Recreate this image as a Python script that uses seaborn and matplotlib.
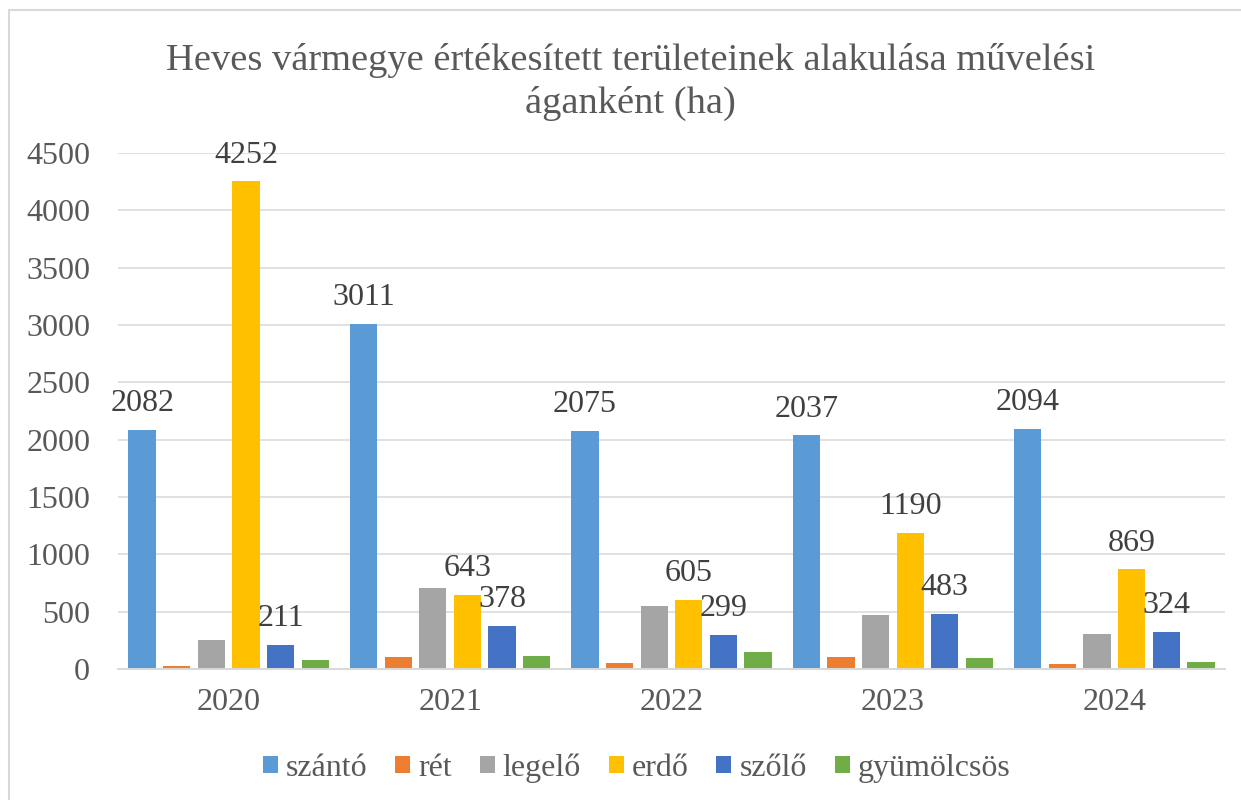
import pandas as pd
import matplotlib.pyplot as plt
import seaborn as sns
from matplotlib.patches import Rectangle

# === Data ===
years = ["2020", "2021", "2022", "2023", "2024"]
series = ["szántó", "rét", "legelő", "erdő", "szőlő", "gyümölcsös"]
szanto = [2082, 3011, 2075, 2037, 2094]
ret = [22, 104, 50, 101, 42]
legelo = [252, 704, 547, 469, 303]
erdo = [4252, 643, 605, 1190, 869]
szolo = [211, 378, 299, 483, 324]
gyumolcsos = [81, 110, 151, 98, 65]
labelled = ["szántó", "erdő", "szőlő"]

colors = ["#5B9BD5", "#ED7D31", "#A5A5A5", "#FFC000", "#4472C4", "#70AD47"]

# long-form table for seaborn
values = [szanto, ret, legelo, erdo, szolo, gyumolcsos]
rows = []
for name, vals in zip(series, values):
    for y, v in zip(years, vals):
        rows.append({"ev": y, "aga": name, "ha": v})
df = pd.DataFrame(rows)

# === Style ===
sns.set_theme(style="white")
plt.rcParams['font.family'] = ['Liberation Serif', 'DejaVu Serif']
text_col = "#595959"
grid_col = "#D9D9D9"

fig = plt.figure(figsize=(12.41, 8), dpi=100)
ax = fig.add_axes([118 / 1241, 131 / 800, (1225 - 118) / 1241, (669 - 153) / 800])

sns.barplot(data=df, x="ev", y="ha", hue="aga", hue_order=series, order=years,
            palette=colors, width=0.938, gap=0.21, saturation=1,
            edgecolor="none", linewidth=0, ax=ax, legend=True)

# value labels only for three series
for name, cont in zip(series, ax.containers):
    if name in labelled:
        ax.bar_label(cont, fmt="%d", padding=8.5, fontsize=23, color="#404040")

# === Axes ===
ax.set_ylim(0, 4500)
ax.set_xlim(-0.5, 4.5)
ax.set_yticks(range(0, 4501, 500))
ax.yaxis.grid(True, color=grid_col, linewidth=1.1)
ax.set_axisbelow(True)
for s in ["left", "right", "top"]:
    ax.spines[s].set_visible(False)
ax.spines["bottom"].set_color(grid_col)
ax.spines["bottom"].set_linewidth(1.4)
ax.tick_params(axis="y", length=0, pad=20, labelsize=23, labelcolor=text_col)
ax.tick_params(axis="x", length=0, pad=14, labelsize=23, labelcolor=text_col)
ax.set_xlabel("")
ax.set_ylabel("")

# === Title ===
fig.text(0.508, 1 - 61 / 800,
         "Heves vármegye értékesített területeinek alakulása művelési",
         ha="center", va="center", fontsize=27.7, color=text_col)
fig.text(0.508, 1 - 103 / 800, "áganként (ha)",
         ha="center", va="center", fontsize=27.7, color=text_col)

# === Legend ===
ax.legend(loc="center", bbox_to_anchor=(636.5 / 1241, 1 - 768 / 800),
          bbox_transform=fig.transFigure, ncol=6, frameon=False,
          fontsize=23, labelcolor=text_col, handlelength=0.47, handleheight=0.47,
          handletextpad=0.25, columnspacing=0.87, borderpad=0)

# light frame round the chart area (left and top edges are visible)
fig.patches.append(Rectangle((9 / 1241, -0.05), 1.2, 1 - 10 / 800 + 0.05,
                             transform=fig.transFigure, fill=False,
                             edgecolor=grid_col, linewidth=1.5))

fig.savefig("out.png", dpi=100)
